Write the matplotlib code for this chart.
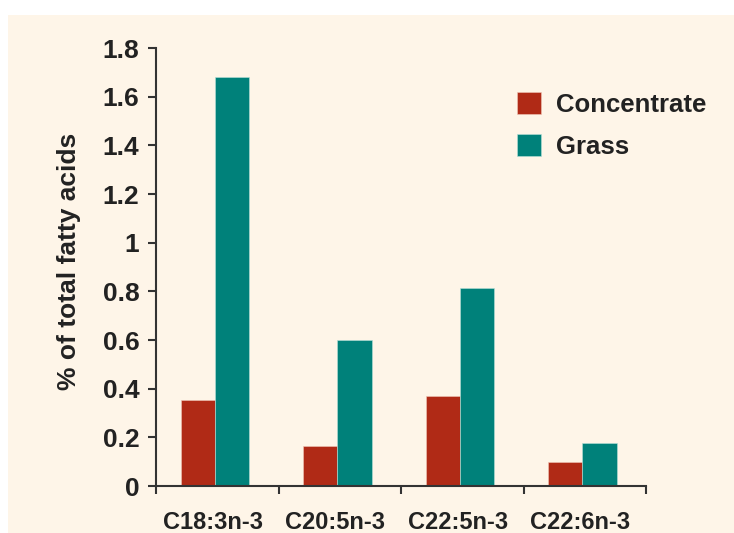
import matplotlib
matplotlib.use("Agg")
import matplotlib.pyplot as plt
from matplotlib.patches import Rectangle
import numpy as np

# values
categories = ["C18:3n-3", "C20:5n-3", "C22:5n-3", "C22:6n-3"]
concentrate = [0.355, 0.165, 0.37, 0.10]
grass = [1.68, 0.60, 0.815, 0.175]
yticks = [0, 0.2, 0.4, 0.6, 0.8, 1, 1.2, 1.4, 1.6, 1.8]
ytick_labels = ["0", "0.2", "0.4", "0.6", "0.8", "1", "1.2", "1.4", "1.6", "1.8"]

RED = "#B02A16"
TEAL = "#00817A"
BG = "#FEF5E8"
TXT = "#222222"

plt.rcParams["font.family"] = ["Liberation Sans", "DejaVu Sans"]
plt.rcParams["font.weight"] = "bold"
plt.rcParams["axes.labelweight"] = "bold"

fig = plt.figure(figsize=(7.34, 5.33), dpi=100)
fig.patch.set_facecolor("white")
# beige panel behind the chart
fig.patches.append(Rectangle((8 / 734, 0), 1, 1 - 15 / 533, transform=fig.transFigure,
                             facecolor=BG, edgecolor="none", zorder=-10))

ax = fig.add_axes([156 / 734, 1 - 486 / 533, (646 - 156) / 734, (486 - 48) / 533])
ax.set_facecolor("none")

x = np.arange(len(categories))
w = 0.28
shift = -0.02  # groups sit a touch left of the category centre
ax.bar(x - w / 2 + shift, concentrate, w, color=RED, edgecolor="#f0c8b8", linewidth=0.4, label="Concentrate")
ax.bar(x + w / 2 + shift, grass, w, color=TEAL, edgecolor="#b8e0d8", linewidth=0.4, label="Grass")

ax.set_xlim(-0.5, 3.5)
ax.set_ylim(0, 1.8)
ax.set_yticks(yticks)
ax.set_yticklabels(ytick_labels, fontsize=19, color=TXT)
# x ticks at the category boundaries, labels at the centres
ax.set_xticks(np.arange(-0.5, 4, 1))
ax.set_xticklabels([])
ax.set_xticks(x - 0.035, minor=True)
ax.set_xticklabels(categories, minor=True, fontsize=17, color=TXT)
ax.tick_params(axis="x", which="minor", length=0, pad=18)
ax.tick_params(axis="x", which="major", length=6, width=1.5, color="#333333")
ax.tick_params(axis="y", length=6, width=1.5, color="#333333", pad=6)

for s in ["top", "right"]:
    ax.spines[s].set_visible(False)
for s in ["left", "bottom"]:
    ax.spines[s].set_color("#333333")
    ax.spines[s].set_linewidth(1.5)

ax.set_ylabel("% of total fatty acids", fontsize=19, color=TXT)
ax.yaxis.set_label_coords(-0.153, 0.513)

ax.legend(loc="upper left", bbox_to_anchor=(494 / 734, 1 - 69 / 533), bbox_transform=fig.transFigure,
          frameon=False, fontsize=18.5, handlelength=0.92, handleheight=0.92, labelspacing=0.68,
          handletextpad=0.6, labelcolor=TXT)

fig.savefig("out.png", dpi=100)
